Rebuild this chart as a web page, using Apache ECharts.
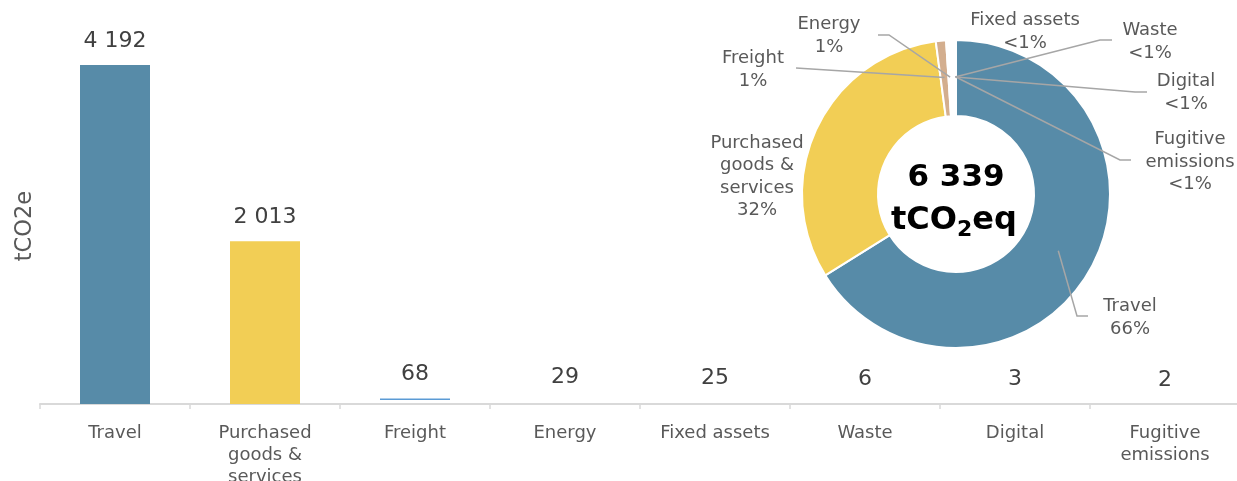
<!DOCTYPE html>
<html>
<head>
<meta charset="utf-8">
<script src="https://cdn.jsdelivr.net/npm/echarts@6/dist/echarts.min.js"></script>
<style>
html,body{margin:0;padding:0;background:#fff;}
#chart{width:1237px;height:481px;}
</style>
</head>
<body>
<div id="chart"></div>
<script>
// ---- data ----
const categories = ['Travel', 'Purchased goods & services', 'Freight', 'Energy', 'Fixed assets', 'Waste', 'Digital', 'Fugitive emissions'];
const values = [4192, 2013, 68, 29, 25, 6, 3, 2];
const shareLabels = ['66%', '32%', '1%', '1%', '<1%', '<1%', '<1%', '<1%'];
const totalLabel = 6339;
const yAxisTitle = 'tCO2e';

// ---- style ----
const FONT = 'DejaVu Sans';
const barColors = ['#578BA8', '#F2CE55', null, 'rgba(0,0,0,0)', 'rgba(0,0,0,0)', 'rgba(0,0,0,0)', 'rgba(0,0,0,0)', 'rgba(0,0,0,0)'];
const pieColors = ['#578BA8', '#F2CE55', '#D3AE8E', '#FFFFFF', '#FFFFFF', '#FFFFFF', '#FFFFFF', '#FFFFFF'];
const pieCenter = [956, 194];
const pieRadius = [78, 154];
const leaderR = 117;
// label block centres and leader-line ends (layout only)
const pieLabelPos = {
  'Travel': {x: 1130, y: 318, line: [[1077, 316], [1088, 316]]},
  'Purchased goods & services': {x: 757, y: 177, line: null},
  'Freight': {x: 753, y: 70, line: [[796, 68]]},
  'Energy': {x: 829, y: 36, line: [[889, 35], [878, 35]]},
  'Fixed assets': {x: 1025, y: 32, line: null},
  'Waste': {x: 1150, y: 42, line: [[1100, 40], [1112, 40]]},
  'Digital': {x: 1186, y: 93, line: [[1135, 92], [1147, 92]]},
  'Fugitive emissions': {x: 1190, y: 162, line: [[1120, 160], [1131, 160]]}
};

function wrap(s, maxChars) {
  const words = s.split(' ');
  const lines = [];
  let cur = '';
  words.forEach(w => {
    if (cur === '') cur = w;
    else if ((cur + ' ' + w).length <= maxChars) cur += ' ' + w;
    else { lines.push(cur); cur = w; }
  });
  if (cur) lines.push(cur);
  return lines.join('\n');
}
function fmt(n) {
  return String(n).replace(/\B(?=(\d{3})+(?!\d))/g, ' ');
}

const chart = echarts.init(document.getElementById('chart'), null, {renderer: 'canvas'});

const freightGrad = new echarts.graphic.LinearGradient(0, 0, 0, 1, [
  {offset: 0, color: '#5B9BD5'}, {offset: 0.3, color: '#5B9BD5'},
  {offset: 0.3, color: 'rgba(255,255,255,0)'}, {offset: 1, color: 'rgba(255,255,255,0)'}
]);

// leader lines start inside each slice, at its mid angle
const total = values.reduce((a, b) => a + b, 0);
let cum = 0;
const leaderLines = [];
values.forEach((v, i) => {
  const mid = (cum + v / 2) / total * 2 * Math.PI;
  cum += v;
  const pos = pieLabelPos[categories[i]];
  if (!pos.line) return;
  const start = [pieCenter[0] + leaderR * Math.sin(mid), pieCenter[1] - leaderR * Math.cos(mid)];
  leaderLines.push({
    type: 'polyline', silent: true, z: 100,
    shape: {points: [start].concat(pos.line)},
    style: {stroke: '#A6A6A6', lineWidth: 1.5, fill: null}
  });
});

const option = {
  backgroundColor: '#fff',
  animation: false,
  textStyle: {fontFamily: FONT},
  grid: {left: 40, width: 1200, top: 32, bottom: 77, containLabel: false, outerBoundsMode: 'none'},
  xAxis: {
    type: 'category',
    data: categories,
    axisLine: {show: true, lineStyle: {color: '#D9D9D9', width: 2}},
    axisTick: {show: true, length: 5, lineStyle: {color: '#D9D9D9', width: 1.5}},
    axisLabel: {
      fontFamily: FONT, fontSize: 18, color: '#595959', margin: 18, lineHeight: 22,
      interval: 0, formatter: v => wrap(v, 12)
    }
  },
  yAxis: {
    type: 'value',
    min: 0, max: 4600,
    axisLine: {show: false}, axisTick: {show: false}, axisLabel: {show: false},
    splitLine: {show: false}
  },
  series: [
    {
      type: 'bar',
      barWidth: 70,
      data: values.map((v, i) => ({value: v, itemStyle: {color: barColors[i] || freightGrad}})),
      label: {
        show: true, position: 'top', distance: 13,
        fontFamily: FONT, fontSize: 22, color: '#404040',
        formatter: p => fmt(p.value)
      }
    },
    {
      type: 'pie',
      center: pieCenter,
      radius: pieRadius,
      startAngle: 90,
      clockwise: true,
      avoidLabelOverlap: false,
      itemStyle: {borderColor: '#fff', borderWidth: 2},
      label: {
        show: true, position: 'outside', overflow: 'none',
        fontFamily: FONT, fontSize: 18, lineHeight: 22.5, color: '#595959',
        align: 'center',
        formatter: p => wrap(p.name, 12) + '\n' + shareLabels[p.dataIndex]
      },
      labelLine: {show: false},
      labelLayout: function (params) {
        const pos = pieLabelPos[categories[params.dataIndex]];
        return {x: pos.x, y: pos.y, align: 'center', verticalAlign: 'middle'};
      },
      emphasis: {disabled: true},
      data: values.map((v, i) => ({value: v, name: categories[i], itemStyle: {color: pieColors[i]}}))
    }
  ],
  graphic: leaderLines.concat([
    {
      type: 'text', silent: true, x: 25, y: 226, rotation: Math.PI / 2,
      style: {
        text: yAxisTitle, align: 'center', verticalAlign: 'middle',
        fontFamily: FONT, fontSize: 22.5, fill: '#595959'
      }
    },
    {
      type: 'text', silent: true, x: pieCenter[0], y: 178, z: 101,
      style: {
        text: fmt(totalLabel), align: 'center', verticalAlign: 'middle',
        fontFamily: FONT, fontWeight: 'bold', fontSize: 31, fill: '#000'
      }
    },
    {
      type: 'text', silent: true, x: pieCenter[0] - 2, y: 221, z: 101,
      style: {
        text: '{a|tCO}{b|2}{a|eq}', align: 'center', verticalAlign: 'middle',
        rich: {
          a: {fontFamily: FONT, fontWeight: 'bold', fontSize: 32, color: '#000', lineHeight: 40},
          b: {fontFamily: FONT, fontWeight: 'bold', fontSize: 22, color: '#000', lineHeight: 40, padding: [16, 0, 0, 0], verticalAlign: 'bottom'}
        }
      }
    }
  ])
};

chart.setOption(option);
</script>
</body>
</html>
